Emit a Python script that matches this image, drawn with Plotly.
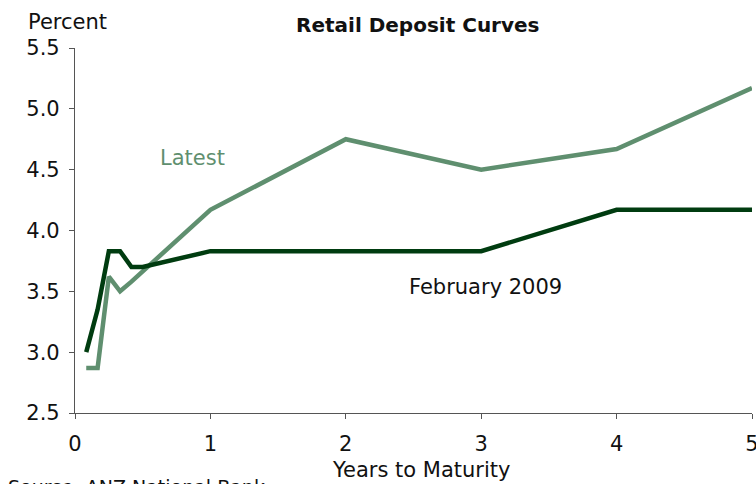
import plotly.graph_objects as go

# Data (years to maturity, percent)
latest_x = [0.083, 0.167, 0.25, 0.333, 0.417, 1, 2, 3, 4, 5]
latest_y = [2.87, 2.87, 3.62, 3.50, 3.58, 4.17, 4.75, 4.50, 4.67, 5.17]
feb_x = [0.083, 0.167, 0.25, 0.333, 0.417, 0.5, 1, 2, 3, 4, 5]
feb_y = [3.00, 3.35, 3.83, 3.83, 3.70, 3.70, 3.83, 3.83, 3.83, 4.17, 4.17]
x_ticks = [0, 1, 2, 3, 4, 5]
y_ticks = [2.5, 3.0, 3.5, 4.0, 4.5, 5.0, 5.5]

LIGHT = "#5f8f6f"
DARK = "#003c10"
FONT = "DejaVu Sans"
FS = 21

fig = go.Figure()
fig.add_trace(go.Scatter(x=latest_x, y=latest_y, mode="lines",
                         line=dict(color=LIGHT, width=4.5), name="Latest"))
fig.add_trace(go.Scatter(x=feb_x, y=feb_y, mode="lines",
                         line=dict(color=DARK, width=4.5), name="February 2009"))

axis_common = dict(showgrid=False, zeroline=False, showline=True, linecolor="#555555",
                   linewidth=1.2, ticks="outside", ticklen=5, tickcolor="#555555",
                   tickwidth=1.2, tickfont=dict(size=FS, family=FONT, color="#111111"),
                   title=None, ticklabeloverflow="allow", automargin=False)

fig.update_layout(
    width=756, height=484,
    margin=dict(l=75, r=4, t=48, b=71, autoexpand=False),
    paper_bgcolor="white", plot_bgcolor="white",
    showlegend=False,
    font=dict(family=FONT, size=FS, color="#111111"),
    xaxis=dict(range=[0, 5], tickvals=x_ticks, ticktext=[str(v) for v in x_ticks],
               ticklabelstandoff=7, **axis_common),
    yaxis=dict(range=[2.5, 5.5], tickvals=y_ticks, ticktext=[f"{v:.1f}" for v in y_ticks],
               ticklabelstandoff=5, **axis_common),
)

fig.add_annotation(text="<b>Retail Deposit Curves</b>", xref="paper", yref="paper",
                   x=(418 - 75) / 677, y=1, yshift=23, xanchor="center", yanchor="middle",
                   showarrow=False, font=dict(size=FS - 1, family=FONT))
fig.add_annotation(text="Percent", xref="paper", yref="paper", x=0, y=1,
                   xshift=-49, yshift=26, xanchor="left", yanchor="middle",
                   showarrow=False, font=dict(size=FS, family=FONT))
fig.add_annotation(text="Years to Maturity", xref="paper", yref="paper", x=(421 - 75) / 677, y=0,
                   yshift=-57, xanchor="center", yanchor="middle",
                   showarrow=False, font=dict(size=FS, family=FONT))
fig.add_annotation(text="Source: ANZ National Bank", xref="paper", yref="paper", x=0, y=0,
                   xshift=-69, yshift=-61, xanchor="left", yanchor="top",
                   showarrow=False, font=dict(size=FS - 2, family=FONT))
fig.add_annotation(text="Latest", x=0.87, y=4.60, xanchor="center", yanchor="middle",
                   showarrow=False, font=dict(size=FS, family=FONT, color=LIGHT))
fig.add_annotation(text="February 2009", x=3.03, y=3.535, xanchor="center", yanchor="middle",
                   showarrow=False, font=dict(size=FS, family=FONT, color="#111111"))

fig.write_html("out.html", config={"displayModeBar": False},
               post_script="document.body.style.margin='0';document.body.style.overflow='hidden';")
